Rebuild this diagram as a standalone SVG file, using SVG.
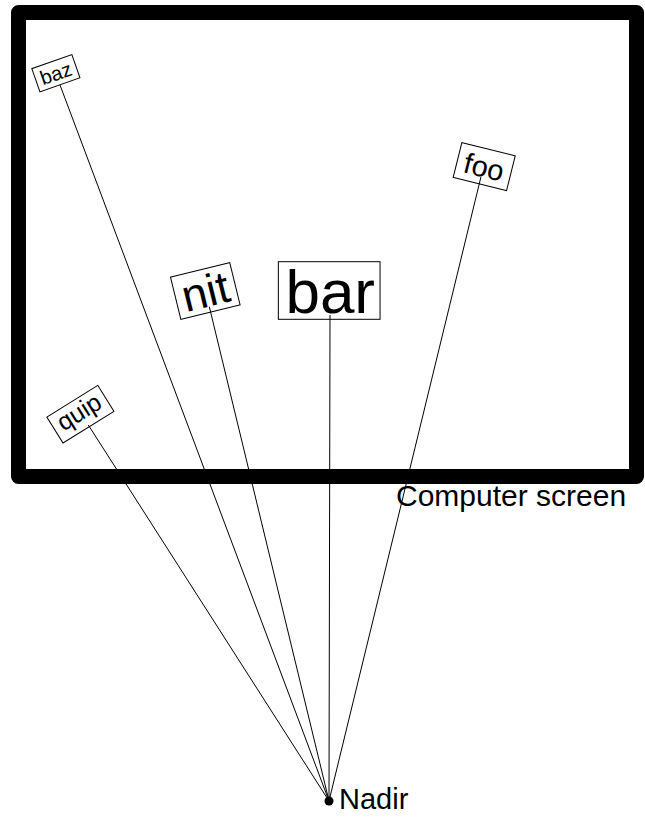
<svg xmlns="http://www.w3.org/2000/svg" width="645" height="818" viewBox="0 0 645 818">
  <style>
    text { font-family: "Liberation Sans", Arial, sans-serif; fill: #000; }
    .tag rect { fill: none; stroke: #000; stroke-width: 1; }
    .tag text { text-anchor: middle; }
    #connectors line { stroke: #000; stroke-width: 1; }
  </style>

  <!-- screen frame -->
  <g id="screen">
    <rect x="18.5" y="12.5" width="618" height="464" fill="none" stroke="#000" stroke-width="15" stroke-linejoin="round"/>
    <text x="396" y="506" font-size="30">Computer screen</text>
  </g>

  <!-- sight lines from the nadir point to each label -->
  <g id="connectors">
    <line x1="329" y1="801" x2="60" y2="85"/>
    <line x1="329" y1="801" x2="481" y2="176.7"/>
    <line x1="329" y1="801" x2="209.3" y2="306.7"/>
    <line x1="329" y1="801" x2="330" y2="315"/>
    <line x1="329" y1="801" x2="88.3" y2="425"/>
  </g>

  <g id="baz" class="tag" transform="translate(55.9,73.2) rotate(-19.3)">
    <rect x="-21.2" y="-12.25" width="42.4" height="24.5"/>
    <text x="0" y="7.2" font-size="20">baz</text>
  </g>

  <g id="foo" class="tag" transform="translate(484.2,166.6) rotate(14)">
    <rect x="-27.5" y="-17.9" width="55" height="35.8"/>
    <text x="0" y="10.6" font-size="29">foo</text>
  </g>

  <g id="nit" class="tag" transform="translate(205.3,291) rotate(-13.8)">
    <rect x="-30.5" y="-21.75" width="61" height="43.5"/>
    <text x="0" y="16" font-size="45">nit</text>
  </g>

  <g id="bar" class="tag" transform="translate(329.2,290.5)">
    <rect x="-50.85" y="-28.8" width="101.7" height="57.6"/>
    <text x="1" y="22.5" font-size="62">bar</text>
  </g>

  <g id="quip" class="tag" transform="translate(80.4,414.2) rotate(-31.9)">
    <rect x="-30" y="-15.3" width="60" height="30.6"/>
    <text x="0" y="6" font-size="25">quip</text>
  </g>

  <g id="nadir">
    <circle cx="329" cy="801" r="4.5" fill="#000"/>
    <text x="339" y="809" font-size="29">Nadir</text>
  </g>
</svg>
